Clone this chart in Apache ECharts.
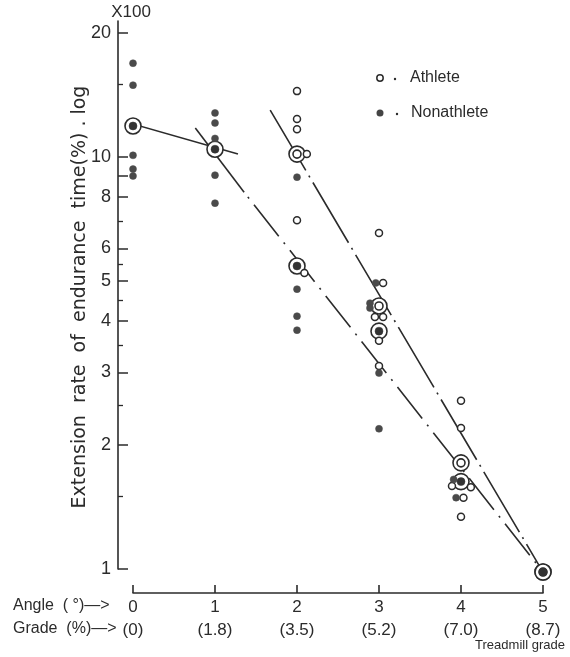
<!DOCTYPE html>
<html><head><meta charset="utf-8">
<script src="https://cdn.jsdelivr.net/npm/echarts@6/dist/echarts.min.js"></script>
<style>html,body{margin:0;padding:0;background:#fff}#c{width:570px;height:657px}</style>
</head><body><div id="c"></div>
<script>
// ---- data ----
const angleLabels = ['0', '1', '2', '3', '4', '5'];
const gradeLabels = ['(0)', '(1.8)', '(3.5)', '(5.2)', '(7.0)', '(8.7)'];
const yLabelValues = [1, 2, 3, 4, 5, 6, 8, 10, 20];
const yMajorTicks = [1, 2, 3, 4, 5, 6, 8, 9, 10, 20];
const yMinorTicks = [1.5, 2.5, 3.5, 4.5, 5.5, 7, 15];

// Athlete (open circles): [angle, value x100]
const athletePoints = [
  [2, 14.46], [2, 12.37], [2, 11.69], [2.12, 10.17], [2, 7.03], [2.09, 5.23],
  [3, 6.54], [3.05, 4.95], [2.95, 4.09], [3.05, 4.09], [3, 3.58], [3, 3.11],
  [4, 2.56], [4, 2.20], [3.89, 1.59], [4.12, 1.58], [4.03, 1.49], [4, 1.34]
];
// Nonathlete (filled dots)
const nonathletePoints = [
  [0, 16.9], [0, 14.95], [0, 10.1], [0, 9.35], [0, 9.0],
  [1, 12.8], [1, 12.1], [1, 11.1], [1, 9.04], [1, 7.73],
  [2, 8.94], [2, 4.78], [2, 4.11], [2, 3.80],
  [2.96, 4.95], [2.89, 4.42], [2.89, 4.30], [3, 2.99], [3, 2.19],
  [3.91, 1.65], [3.94, 1.49]
];
// Means
const athleteMeans = [[2, 10.17], [3, 4.35], [4, 1.81], [5, 0.983]];
const nonathleteMeans = [[0, 11.9], [1, 10.45], [2, 5.44], [3, 3.78], [4, 1.63], [5, 0.983]];
// Fitted lines
const lineShortSolid = [[-0.29, 12.5], [1.28, 10.17]];
const lineNonSolid = [[0.76, 11.76], [1.355, 8.22]];
const lineNonDashed = [[1.355, 8.22], [5, 0.983]];
const lineAthDashed = [[1.673, 13.0], [5, 0.983]];

// ---- chart ----
const FONT = 'Liberation Sans';
const INK = '#2b2b2b';
const chart = echarts.init(document.getElementById('c'), null, {renderer: 'canvas'});

const lineBase = {
  type: 'line', showSymbol: false, symbol: 'none', clip: false, silent: true, z: 1,
  animation: false
};

chart.setOption({
  animation: false,
  backgroundColor: '#fff',
  grid: {left: 133, right: 27, top: 21, bottom: 88},
  xAxis: {
    type: 'value', min: 0, max: 5, interval: 1, offset: 24,
    axisLine: {show: true, lineStyle: {color: INK, width: 1.6}},
    axisTick: {show: true, inside: true, length: 8, lineStyle: {color: INK, width: 1.6}},
    splitLine: {show: false},
    axisLabel: {
      show: true, margin: 3, color: INK, fontFamily: FONT, fontSize: 17, lineHeight: 23,
      showMinLabel: true, showMaxLabel: true,
      formatter: v => angleLabels[Math.round(v)] + '\n' + gradeLabels[Math.round(v)]
    }
  },
  yAxis: [{
    type: 'log', logBase: 10, min: 1, max: 21.4, offset: 15,
    axisLine: {show: true, onZero: false, lineStyle: {color: INK, width: 1.6}},
    axisTick: {show: true, inside: true, length: 10, customValues: yMajorTicks, lineStyle: {color: INK, width: 1.5}},
    axisLabel: {show: true, margin: 7, color: INK, fontFamily: FONT, fontSize: 18, customValues: yLabelValues},
    splitLine: {show: false}, minorTick: {show: false}
  }, {
    type: 'log', logBase: 10, min: 1, max: 21.4, offset: 15, position: 'left',
    axisLine: {show: false, onZero: false},
    axisTick: {show: true, inside: true, length: 5, customValues: yMinorTicks, lineStyle: {color: INK, width: 1.3}},
    axisLabel: {show: false},
    splitLine: {show: false}
  }],
  graphic: [
    {type: 'text', x: 131, y: 12, style: {text: 'X100', font: '17px ' + FONT, fill: INK, textAlign: 'center', textVerticalAlign: 'middle'}},
    {type: 'text', x: 80, y: 297, rotation: Math.PI / 2,
      style: {text: 'Extension  rate  of  endurance  time(%) . log', font: '19px DejaVu Sans', fill: INK, textAlign: 'center', textVerticalAlign: 'middle'}},
    {type: 'text', x: 13, y: 606, style: {text: 'Angle  ( °)\u2014>', font: '16px ' + FONT, fill: INK, textAlign: 'left', textVerticalAlign: 'middle'}},
    {type: 'text', x: 13, y: 629, style: {text: 'Grade  (%)\u2014>', font: '16px ' + FONT, fill: INK, textAlign: 'left', textVerticalAlign: 'middle'}},
    {type: 'text', x: 520, y: 645, style: {text: 'Treadmill grade', font: '13px ' + FONT, fill: INK, textAlign: 'center', textVerticalAlign: 'middle'}},
    // legend
    {type: 'circle', shape: {cx: 380, cy: 78, r: 3.2}, style: {fill: '#fff', stroke: INK, lineWidth: 1.5}},
    {type: 'circle', shape: {cx: 395, cy: 79, r: 1.2}, style: {fill: INK}},
    {type: 'text', x: 410, y: 78, style: {text: 'Athlete', font: '16px ' + FONT, fill: INK, textAlign: 'left', textVerticalAlign: 'middle'}},
    {type: 'circle', shape: {cx: 380, cy: 113, r: 3.5}, style: {fill: '#444'}},
    {type: 'circle', shape: {cx: 397, cy: 114, r: 1.2}, style: {fill: INK}},
    {type: 'text', x: 411, y: 113, style: {text: 'Nonathlete', font: '16px ' + FONT, fill: INK, textAlign: 'left', textVerticalAlign: 'middle'}}
  ],
  series: [
    Object.assign({}, lineBase, {data: lineShortSolid, lineStyle: {color: INK, width: 1.6, type: 'solid'}}),
    Object.assign({}, lineBase, {data: lineNonSolid, lineStyle: {color: INK, width: 1.6, type: 'solid'}}),
    Object.assign({}, lineBase, {data: lineNonDashed, lineStyle: {color: INK, width: 1.6, type: [40, 8, 2, 8], dashOffset: 42}}),
    Object.assign({}, lineBase, {data: lineAthDashed, lineStyle: {color: INK, width: 1.6, type: [70, 6, 2, 6]}}),
    {type: 'scatter', name: 'athleteMeanOuter', data: athleteMeans, clip: false, z: 2, symbol: 'circle', symbolSize: 16,
      itemStyle: {color: '#fff', borderColor: INK, borderWidth: 1.6, opacity: 1}},
    {type: 'scatter', name: 'nonathleteMeanOuter', data: nonathleteMeans, clip: false, z: 2, symbol: 'circle', symbolSize: 16,
      itemStyle: {color: '#fff', borderColor: INK, borderWidth: 1.6, opacity: 1}},
    {type: 'scatter', name: 'Athlete', data: athletePoints, clip: false, z: 3, symbol: 'circle', symbolSize: 7,
      itemStyle: {color: '#fff', borderColor: INK, borderWidth: 1.5, opacity: 1}},
    {type: 'scatter', name: 'Nonathlete', data: nonathletePoints, clip: false, z: 3, symbol: 'circle', symbolSize: 7,
      itemStyle: {color: '#4a4a4a', borderColor: '#4a4a4a', borderWidth: 0.5, opacity: 1}},
    {type: 'scatter', name: 'athleteMeanInner', data: athleteMeans, clip: false, z: 4, symbol: 'circle', symbolSize: 8,
      itemStyle: {color: '#fff', borderColor: INK, borderWidth: 1.6, opacity: 1}},
    {type: 'scatter', name: 'nonathleteMeanInner', data: nonathleteMeans, clip: false, z: 4, symbol: 'circle', symbolSize: 8,
      itemStyle: {color: '#333', borderColor: '#333', borderWidth: 0.5, opacity: 1}}
  ]
});
</script>
</body></html>
